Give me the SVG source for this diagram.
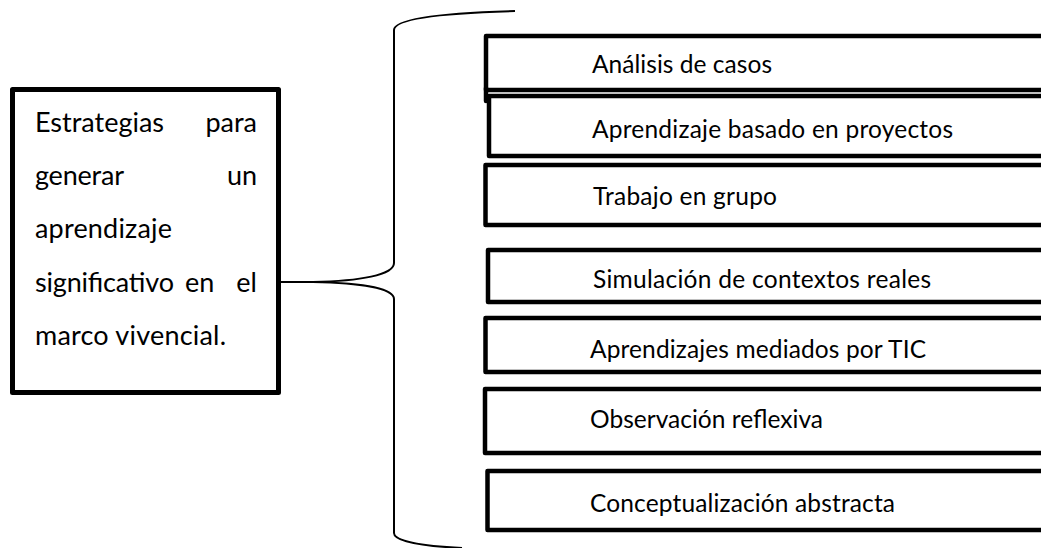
<svg xmlns="http://www.w3.org/2000/svg" width="1041" height="548" viewBox="0 0 1041 548">
<style>
.box{fill:#fff;stroke:#000;stroke-width:4.5;stroke-linejoin:round}
.main{fill:#fff;stroke:#000;stroke-width:5;stroke-linejoin:round}
.br{fill:none;stroke:#000;stroke-width:2}
.t{font-family:Lato,"Liberation Sans",sans-serif;font-size:24.5px;fill:#000}
.l{font-family:Lato,"Liberation Sans",sans-serif;font-size:27px;fill:#000}
</style>
<rect width="1041" height="548" fill="#fff"/>
<g id="connectors">
<path class="br" d="M515,11 C440,13 394,19 394,30 V263 C394,275 360,281 313,282 H281"/>
<path class="br" d="M313,282 C360,283 394,288 394,299 V533 C394,541 420,546 462,548"/>
</g>
<g id="main">
<rect class="main" x="12.5" y="89.5" width="266" height="303"/>
<text class="l" x="35" y="131.7" textLength="129">Estrategias</text>
<text class="l" x="257" y="131.7" text-anchor="end">para</text>
<text class="l" x="35" y="185" textLength="89">generar</text>
<text class="l" x="257" y="185" text-anchor="end">un</text>
<text class="l" x="35" y="238.3" textLength="137">aprendizaje</text>
<text class="l" x="35" y="291.6" textLength="139">significativo</text>
<text class="l" x="185" y="291.6">en</text>
<text class="l" x="257" y="291.6" text-anchor="end">el</text>
<text class="l" x="35" y="345" textLength="191">marco vivencial.</text>
</g>
<g id="n1">
<rect class="box" x="486" y="36" width="580" height="54"/>
<line x1="486" y1="88" x2="486" y2="101" stroke="#000" stroke-width="4.5" stroke-linecap="round"/>
<text class="t" x="592" y="73" textLength="180">Análisis de casos</text>
</g>
<g id="n2">
<rect class="box" x="489" y="96" width="580" height="60"/>
<text class="t" x="592" y="138" textLength="361">Aprendizaje basado en proyectos</text>
</g>
<g id="n3">
<rect class="box" x="485.5" y="165" width="580" height="60"/>
<text class="t" x="593" y="205" textLength="184">Trabajo en grupo</text>
</g>
<g id="n4">
<rect class="box" x="488" y="250" width="580" height="52"/>
<text class="t" x="593" y="288" textLength="338">Simulación de contextos reales</text>
</g>
<g id="n5">
<rect class="box" x="485.5" y="318" width="580" height="54"/>
<text class="t" x="590" y="358" textLength="336">Aprendizajes mediados por TIC</text>
</g>
<g id="n6">
<rect class="box" x="485" y="389" width="580" height="64"/>
<text class="t" x="590" y="428" textLength="233">Observación reflexiva</text>
</g>
<g id="n7">
<rect class="box" x="487.5" y="471" width="580" height="59"/>
<text class="t" x="590" y="512" textLength="305">Conceptualización abstracta</text>
</g>
</svg>
